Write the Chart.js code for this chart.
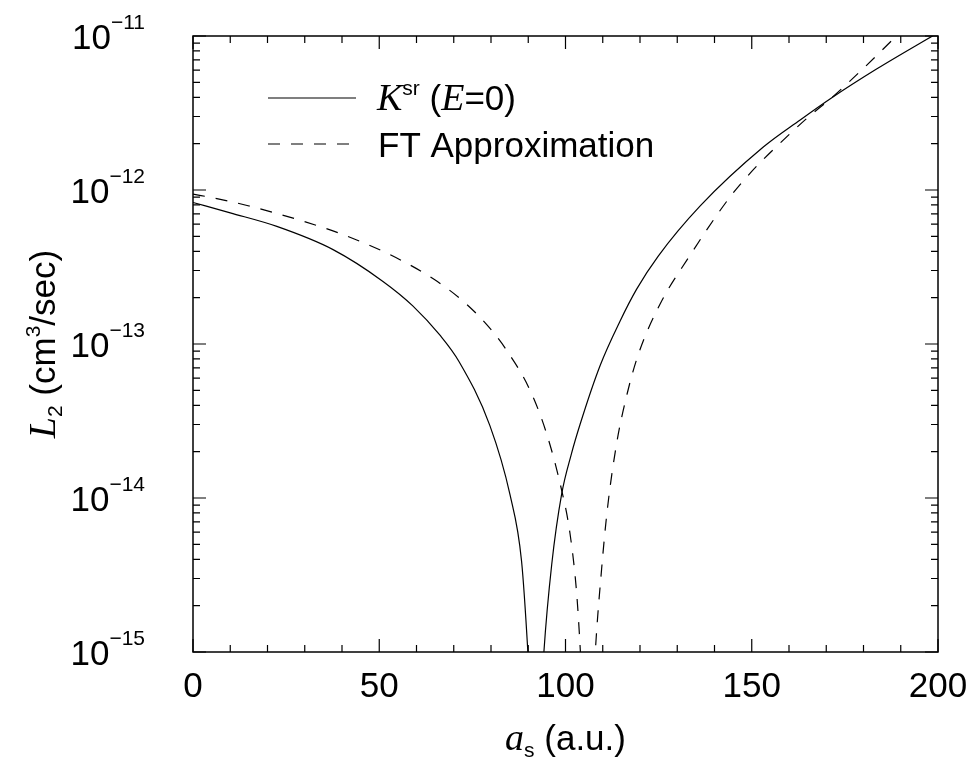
<!DOCTYPE html>
<html>
<head>
<meta charset="utf-8">
<script src="https://cdn.jsdelivr.net/npm/chart.js@4.4.1/dist/chart.umd.min.js"></script>
<style>
    html, body { margin: 0; padding: 0; background: #fff; }
    #chart { display: block; }
</style>
</head>
<body>
<canvas id="chart" width="972" height="757"></canvas>
<script>
// K^sr (E=0), solid curve
const ksrX = [0, 10, 22.5, 37.6, 51, 59, 66.3, 71.4, 79.7, 85.1, 88.2, 89.9, 92, 94.2, 96.3, 99, 101.5, 103.9, 109.3, 114.6, 119.1, 124.9, 136.1, 153.1, 163, 171, 183.5, 200];
const ksrY = [8.3e-13, 7.1e-13, 5.8e-13, 4.1e-13, 2.55e-13, 1.77e-13, 1.14e-13, 7.7e-14, 2.95e-14, 1.05e-14, 3.9e-15, 1.0e-15, 1e-16, 1.0e-15, 3.7e-15, 1.07e-14, 1.9e-14, 3.0e-14, 7.25e-14, 1.4e-13, 2.27e-13, 3.72e-13, 7.85e-13, 1.9e-12, 2.85e-12, 3.9e-12, 6.1e-12, 1.05e-11];

// FT approximation, dashed curve
const ftX = [0, 6.4, 14.8, 29.6, 40.3, 52.9, 64.5, 72.6, 78.8, 83.8, 90.5, 94.9, 98.8, 101.2, 103, 104, 106, 108, 109.7, 111.2, 113.7, 116.5, 119.5, 125.4, 133, 144, 150, 157, 165, 171.5, 180, 188, 191];
const ftY = [9.4e-13, 8.8e-13, 7.9e-13, 6.27e-13, 5.13e-13, 3.8e-13, 2.65e-13, 1.89e-13, 1.34e-13, 9.4e-14, 5.0e-14, 2.63e-14, 1.17e-14, 5.9e-15, 2.4e-15, 1.0e-15, 1e-16, 1.0e-15, 3.47e-15, 8.3e-15, 2.24e-14, 4.7e-14, 8.5e-14, 1.82e-13, 3.63e-13, 8.9e-13, 1.32e-12, 1.95e-12, 2.95e-12, 3.98e-12, 6.17e-12, 9.55e-12, 1.12e-11];

const xTickValues = [0, 50, 100, 150, 200];
const yTickExponents = [-15, -14, -13, -12, -11];

const SANS = '"Liberation Sans", Arial, Helvetica, sans-serif';
const SERIF = '"Liberation Serif", "Times New Roman", serif';
const BIG = 35;
const SMALL = 21;

function toPoints(xs, ys) {
    return xs.map((x, i) => ({ x: x, y: ys[i] }));
}

// text made of pieces, each with its own font and vertical shift
function runsWidth(ctx, runs) {
    let w = 0;
    runs.forEach(r => {
        ctx.font = r.font;
        w += ctx.measureText(r.text).width;
    });
    return w;
}

function drawRuns(ctx, runs, x, y) {
    ctx.textAlign = 'left';
    ctx.textBaseline = 'alphabetic';
    runs.forEach(r => {
        ctx.font = r.font;
        ctx.fillText(r.text, x, y + (r.dy || 0));
        x += ctx.measureText(r.text).width;
    });
}

const frame = {
    id: 'frame',
    afterDraw(chart) {
        const ctx = chart.ctx;
        const a = chart.chartArea;
        const xs = chart.scales.x;
        const ys = chart.scales.y;
        ctx.save();
        ctx.strokeStyle = '#000';
        ctx.fillStyle = '#000';

        // box
        ctx.lineWidth = 1.5;
        ctx.strokeRect(a.left, a.top, a.right - a.left, a.bottom - a.top);

        // inward ticks on all four sides
        ctx.lineWidth = 1.2;
        ctx.beginPath();
        for (let v = 0; v <= 200; v += 10) {
            const px = xs.getPixelForValue(v);
            const len = v % 50 === 0 ? 13 : 7;
            ctx.moveTo(px, a.bottom); ctx.lineTo(px, a.bottom - len);
            ctx.moveTo(px, a.top); ctx.lineTo(px, a.top + len);
        }
        for (let d = -15; d <= -11; d++) {
            for (let m = 1; m <= 9; m++) {
                const v = m * Math.pow(10, d);
                if (v > 1.0001e-11) break;
                const py = ys.getPixelForValue(v);
                const len = m === 1 ? 13 : 7;
                ctx.moveTo(a.left, py); ctx.lineTo(a.left + len, py);
                ctx.moveTo(a.right, py); ctx.lineTo(a.right - len, py);
            }
        }
        ctx.stroke();

        // x tick labels
        ctx.font = BIG + 'px ' + SANS;
        ctx.textAlign = 'center';
        ctx.textBaseline = 'alphabetic';
        xTickValues.forEach(v => {
            ctx.fillText(String(v), xs.getPixelForValue(v), 697);
        });

        // y tick labels 10^n
        yTickExponents.forEach(e => {
            const py = ys.getPixelForValue(Math.pow(10, e));
            const runs = [
                { text: '10', font: BIG + 'px ' + SANS, dy: 12.5 },
                { text: '\u2212' + Math.abs(e), font: SMALL + 'px ' + SANS, dy: -7 }
            ];
            const w = runsWidth(ctx, runs);
            drawRuns(ctx, runs, 145 - w, py);
        });

        // x title
        const xTitle = [
            { text: 'a', font: 'italic 38px ' + SERIF },
            { text: 's', font: SMALL + 'px ' + SANS, dy: 7 },
            { text: ' (a.u.)', font: BIG + 'px ' + SANS }
        ];
        const xw = runsWidth(ctx, xTitle);
        drawRuns(ctx, xTitle, (a.left + a.right) / 2 - xw / 2, 750);

        // y title, rotated
        const yTitle = [
            { text: 'L', font: 'italic 38px ' + SERIF },
            { text: '2', font: SMALL + 'px ' + SANS, dy: 7 },
            { text: ' (cm', font: BIG + 'px ' + SANS },
            { text: '3', font: SMALL + 'px ' + SANS, dy: -15 },
            { text: '/sec)', font: BIG + 'px ' + SANS }
        ];
        const yw = runsWidth(ctx, yTitle);
        ctx.save();
        ctx.translate(55, (a.top + a.bottom) / 2);
        ctx.rotate(-Math.PI / 2);
        drawRuns(ctx, yTitle, -yw / 2, 0);
        ctx.restore();

        // legend
        chart.data.datasets.forEach((ds, i) => {
            const ly = i === 0 ? 98 : 144;
            ctx.save();
            ctx.lineWidth = ds.borderWidth;
            ctx.strokeStyle = ds.borderColor;
            ctx.setLineDash(ds.borderDash || []);
            ctx.beginPath();
            ctx.moveTo(268, ly);
            ctx.lineTo(356, ly);
            ctx.stroke();
            ctx.restore();
        });
        drawRuns(ctx, [
            { text: 'K', font: 'italic 38px ' + SERIF },
            { text: 'sr', font: SMALL + 'px ' + SANS, dy: -15 },
            { text: ' (', font: BIG + 'px ' + SANS },
            { text: 'E', font: 'italic 38px ' + SERIF },
            { text: '=0)', font: BIG + 'px ' + SANS }
        ], 377, 110);
        drawRuns(ctx, [
            { text: 'FT Approximation', font: BIG + 'px ' + SANS }
        ], 378, 157);

        ctx.restore();
    }
};

new Chart(document.getElementById('chart'), {
    type: 'line',
    data: {
        datasets: [
            {
                label: 'K^sr (E=0)',
                data: toPoints(ksrX, ksrY),
                borderColor: '#000',
                borderWidth: 1.2,
                pointRadius: 0,
                cubicInterpolationMode: 'monotone',
                fill: false
            },
            {
                label: 'FT Approximation',
                data: toPoints(ftX, ftY),
                borderColor: '#000',
                borderWidth: 1.2,
                borderDash: [12, 11],
                pointRadius: 0,
                cubicInterpolationMode: 'monotone',
                fill: false
            }
        ]
    },
    options: {
        responsive: false,
        animation: false,
        layout: { padding: { top: 36, right: 34, left: 0, bottom: 0 } },
        plugins: {
            legend: { display: false },
            tooltip: { enabled: false }
        },
        scales: {
            x: {
                type: 'linear',
                min: 0,
                max: 200,
                ticks: { display: false },
                grid: { display: false },
                border: { display: false },
                afterFit: s => { s.height = 105; }
            },
            y: {
                type: 'logarithmic',
                min: 1e-15,
                max: 1e-11,
                ticks: { display: false },
                grid: { display: false },
                border: { display: false },
                afterFit: s => { s.width = 193; }
            }
        }
    },
    plugins: [frame]
});
</script>
</body>
</html>
